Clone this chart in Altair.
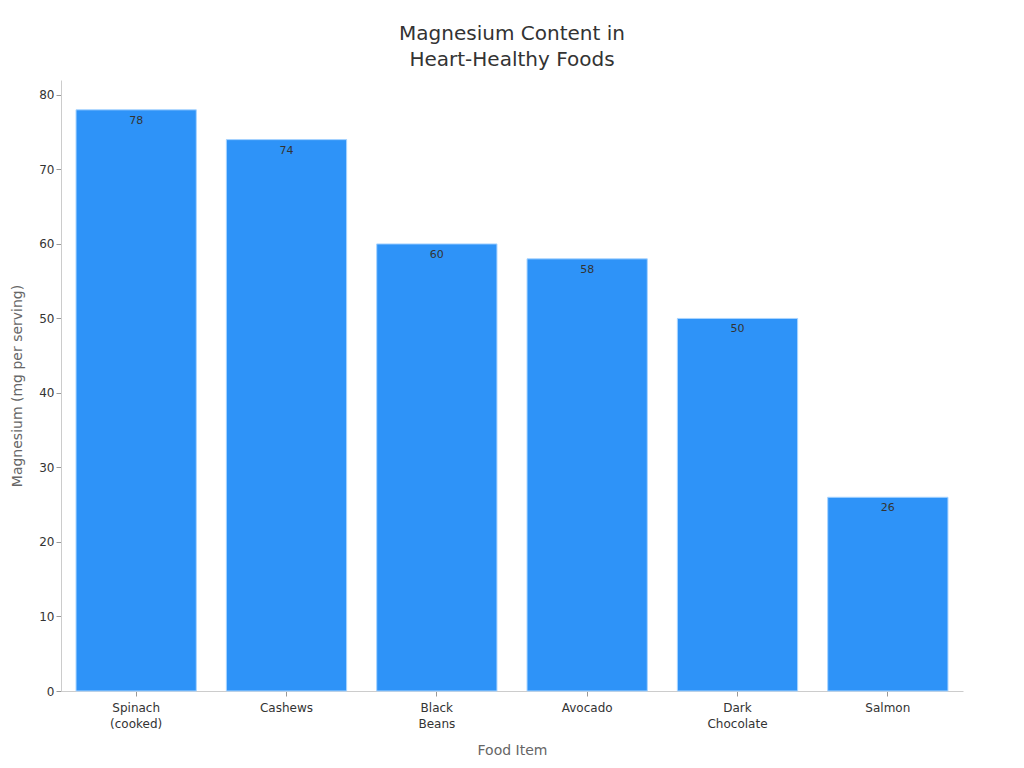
import altair as alt
import pandas as pd

foods = ["Spinach\n(cooked)", "Cashews", "Black\nBeans", "Avocado", "Dark\nChocolate", "Salmon"]
magnesium = [78, 74, 60, 58, 50, 26]

df = pd.DataFrame({"food": foods, "mg": magnesium})

x = alt.X("food:N", sort=foods, title="Food Item",
          scale=alt.Scale(paddingInner=0.2, paddingOuter=0.1),
          axis=alt.Axis(labelAngle=0, labelExpr="split(datum.label, '\\n')",
                        labelFontSize=12, labelColor="#333", labelLineHeight=16,
                        titleFontSize=14, titleColor="#666", titleFontWeight="normal",
                        titlePadding=14, domainColor="#ccc", tickColor="#999", tickSize=5,
                        labelPadding=6))
y = alt.Y("mg:Q", title="Magnesium (mg per serving)",
          scale=alt.Scale(domain=[0, 82], nice=False),
          axis=alt.Axis(values=[0, 10, 20, 30, 40, 50, 60, 70, 80], grid=False,
                        labelFontSize=12, labelColor="#333",
                        titleFontSize=14, titleColor="#666", titleFontWeight="normal",
                        titlePadding=14, domainColor="#ccc", tickColor="#999", tickSize=5))

bars = alt.Chart(df).mark_bar(color="#2E93F8", stroke="#A8D4FF", strokeWidth=1).encode(x=x, y=y)
labels = alt.Chart(df).mark_text(baseline="top", dy=5, fontSize=11, color="#333").encode(
    x=alt.X("food:N", sort=foods), y="mg:Q", text="mg:Q")

chart = (bars + labels).properties(
    width=902, height=611,
    autosize=alt.AutoSizeParams(type="none"),
    padding={"left": 53, "top": 72, "right": 50, "bottom": 70},
    title=alt.TitleParams(["Magnesium Content in", "Heart-Healthy Foods"], fontSize=20,
                          fontWeight="normal", color="#333", anchor="middle", offset=10,
                          lineHeight=26, font="DejaVu Sans"),
).configure(font="DejaVu Sans").configure_view(stroke=None)

chart.save("out.html", embed_options={"renderer": "svg", "actions": False})
